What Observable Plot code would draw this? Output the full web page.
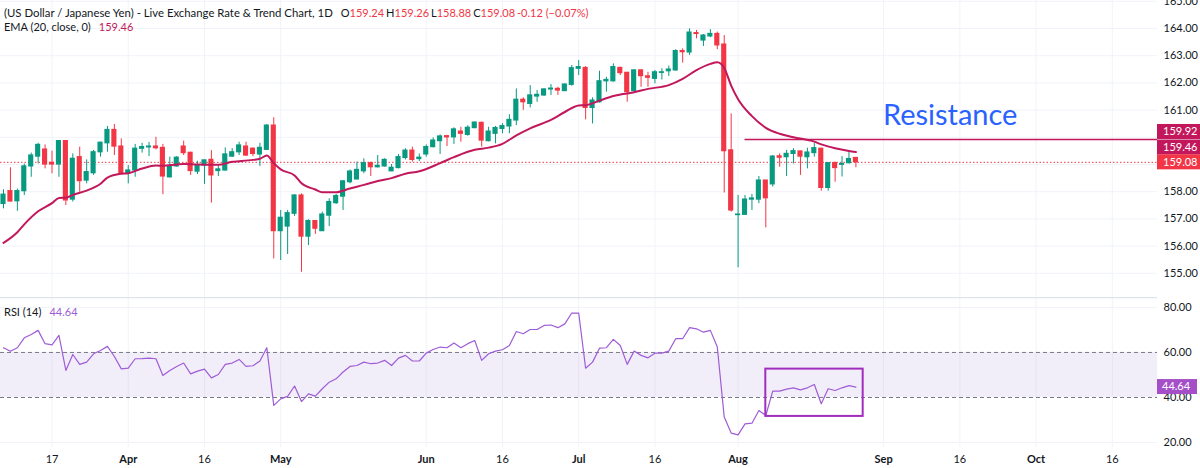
<!DOCTYPE html>
<html>
<head>
<meta charset="utf-8">
<script src="https://cdn.jsdelivr.net/npm/d3@7"></script>
<script src="https://cdn.jsdelivr.net/npm/@observablehq/plot@0.6"></script>
<style>
  html, body { margin: 0; padding: 0; background: #ffffff; }
  #chart { position: relative; width: 1200px; height: 468px; overflow: hidden; font-family: Lato, "Noto Sans", sans-serif; }
  #chart svg { display: block; }
  .legend { position: absolute; left: 4px; font-size: 11px; line-height: 14px; color: #131722; white-space: pre; }
  .title { font-size: 11.35px; }
  .red { color: #f23645; }
  .ema { color: #c2185b; }
  .rsiv { color: #9e5cd6; }
  .g0 { margin-left: 8px; }
  .g { margin-left: 2px; }
</style>
</head>
<body>
<div id="chart">
  <div id="price"></div>
  <div id="rsi"></div>
  <div class="legend" id="leg1" style="top:6px"></div>
  <div class="legend" id="leg2" style="top:20px"></div>
  <div class="legend" id="leg3" style="top:305px"></div>
</div>
<script>
// ---------------- data ----------------
const symbolTitle = "(US Dollar / Japanese Yen) - Live Exchange Rate & Trend Chart, 1D";
const changeText = "-0.12 (\u22120.07%)";
const emaTitle = "EMA (20, close, 0)";
const rsiTitle = "RSI (14)";

const open = [157.55,158.02,157.65,158.02,158.93,159.29,159.55,159.06,159.00,159.86,
157.71,159.27,158.41,158.68,159.45,159.78,160.27,159.66,158.66,158.78,
159.58,159.63,159.66,159.61,158.53,158.93,159.66,159.43,158.74,158.96,
159.17,158.76,158.78,159.29,159.45,159.66,159.58,159.37,159.54,160.43,
156.55,156.72,157.19,157.86,156.35,156.92,156.55,157.12,157.58,157.82,
158.35,158.45,158.75,159.05,158.90,158.93,158.75,158.87,159.24,159.51,
159.20,159.37,159.64,159.86,160.04,160.00,160.21,160.09,160.34,160.53,
159.86,160.13,160.31,160.40,160.62,161.38,161.23,161.50,161.54,161.76,
161.78,161.70,161.93,162.52,162.55,161.08,161.29,162.06,162.06,162.55,
162.37,161.70,162.46,162.24,162.15,162.37,162.43,162.46,163.17,163.12,
163.83,163.56,163.71,163.80,163.41,159.52,157.14,157.15,157.71,157.71,
158.41,158.27,159.30,159.27,159.39,159.48,159.27,159.42,159.58,158.14,
159.05,158.99,159.05,159.24];
const high = [158.07,158.88,158.10,159.02,159.42,159.78,159.72,159.49,159.88,159.86,
159.39,159.64,159.17,159.52,159.82,160.40,160.47,159.94,158.96,159.74,
159.78,159.81,160.00,159.74,159.27,159.29,159.86,159.45,159.12,159.17,
159.51,158.96,159.61,159.58,159.82,159.82,159.61,159.78,160.47,160.72,
157.31,157.31,157.89,157.92,156.97,156.94,157.25,157.74,157.90,158.41,
158.80,159.09,159.21,159.09,159.33,159.21,159.00,159.37,159.58,159.64,
159.39,159.72,159.98,160.09,160.07,160.35,160.37,160.43,160.56,160.56,
160.37,160.40,160.50,160.83,161.78,161.45,161.90,161.72,161.78,161.94,
161.84,161.96,162.64,162.82,162.60,161.45,162.43,162.21,162.70,162.58,
162.39,162.48,162.48,162.39,162.46,162.52,162.62,163.22,163.25,163.99,
163.93,163.78,163.96,163.87,163.74,160.86,157.86,157.86,157.90,158.56,
158.41,159.33,159.39,159.52,159.58,159.49,159.60,159.78,159.58,159.05,
159.09,159.29,159.45,159.26];
const low = [157.37,157.62,157.28,157.86,158.53,159.02,158.84,158.66,158.53,157.49,
157.62,157.98,158.29,158.60,159.27,159.45,159.33,158.66,158.29,158.53,
159.42,159.29,159.54,157.89,158.50,158.90,159.33,158.60,158.63,158.27,
157.58,158.56,158.76,159.27,159.33,159.29,159.29,158.93,159.52,155.53,
155.47,155.69,157.09,155.04,156.02,156.43,156.54,156.72,157.53,157.31,
158.29,158.44,158.66,158.56,158.87,158.90,158.74,158.84,159.17,159.09,
159.11,159.27,159.61,159.37,159.66,159.74,159.82,160.04,160.31,159.64,
159.83,159.76,160.13,160.13,160.43,160.99,161.08,161.29,161.50,161.54,
161.54,161.68,161.88,162.27,160.64,160.49,161.26,161.66,162.03,162.27,
161.29,161.66,161.84,161.84,161.97,162.11,162.24,162.43,162.73,163.01,
163.62,163.34,163.66,163.22,157.95,157.25,155.20,157.15,157.31,157.56,
156.67,158.17,158.90,158.56,159.02,158.60,158.84,159.27,158.02,158.02,
158.35,158.54,159.02,158.88];
const close = [157.89,157.64,158.02,158.93,159.33,159.72,159.00,159.00,159.86,157.68,
159.21,158.39,158.72,159.45,159.80,160.27,159.66,158.68,158.78,159.58,
159.64,159.66,159.60,158.56,158.93,159.25,159.42,158.76,158.96,159.15,
158.60,158.82,159.37,159.45,159.70,159.33,159.39,159.61,160.43,156.55,
157.04,157.21,157.86,156.35,156.92,156.64,157.16,157.62,157.84,158.38,
158.74,158.80,159.05,158.90,158.95,159.17,158.88,159.27,159.51,159.17,
159.25,159.64,159.88,160.03,160.00,160.29,160.13,160.35,160.54,159.88,
160.21,160.34,160.41,160.64,161.38,161.29,161.54,161.56,161.76,161.79,
161.72,161.94,162.54,162.58,161.08,161.35,162.06,162.11,162.58,162.36,
161.66,162.46,162.25,162.19,162.39,162.39,162.49,163.17,163.13,163.85,
163.80,163.74,163.80,163.38,159.49,157.31,157.16,157.71,157.75,158.41,
157.76,159.29,159.25,159.39,159.49,159.29,159.44,159.60,158.14,159.05,
158.87,159.02,159.20,159.08];

// EMA(20) at these bars
const emaBar = [0,2,3,5,7,8,9,10,12,14,15,17,18,20,22,23,25,26,28,31,33,34,36,37,38,39,40,42,43,45,46,48,50,52,54,56,58,60,63,65,68,70,72,74,76,79,81,83,84,86,88,91,93,96,98,100,102,103,104,105,106,108,110,112,114,117,118,120,122,123];
const emaValue = [156.12,156.51,156.80,157.28,157.58,157.77,157.78,157.88,158.04,158.29,158.52,158.66,158.68,158.85,158.96,158.95,159.00,159.02,159.00,158.99,159.10,159.12,159.17,159.21,159.33,159.05,158.82,158.60,158.31,158.08,157.98,157.98,158.12,158.25,158.39,158.50,158.66,158.75,159.05,159.27,159.54,159.62,159.76,160.07,160.33,160.64,160.93,161.17,161.18,161.35,161.52,161.66,161.78,161.92,162.15,162.47,162.70,162.76,162.55,161.90,161.40,160.78,160.35,160.13,160.00,159.84,159.74,159.60,159.50,159.46];

// RSI(14), one value per bar
const rsi = [62.1,60.5,62.1,66.5,68.0,69.8,63.9,63.4,67.6,52.0,
59.1,54.7,55.7,59.4,60.9,62.7,58.2,52.7,53.0,57.2,
57.3,57.5,57.2,49.8,52.0,53.8,55.3,50.5,51.7,52.6,
48.7,50.2,54.7,55.3,56.9,53.8,54.1,56.2,62.1,36.5,
39.4,40.5,45.1,38.2,41.6,40.6,43.9,46.8,48.3,51.3,
53.8,54.2,55.7,55.0,55.3,56.5,54.2,57.5,58.7,56.2,
56.2,59.7,61.3,62.4,62.1,64.2,62.1,63.9,65.3,56.5,
59.4,60.6,61.2,63.1,69.3,68.3,70.2,70.2,72.0,72.2,
71.0,72.7,77.5,77.5,53.0,55.7,61.9,62.1,65.8,63.1,
54.7,60.6,58.7,57.6,59.7,59.7,60.6,66.1,66.1,71.0,
70.5,69.0,69.8,62.4,31.3,24.2,23.4,28.3,28.6,34.2,
32.0,42.8,42.8,43.7,44.3,43.4,44.3,45.8,37.2,43.9,
43.1,44.3,45.3,44.64];

const axisTickBars = [7, 18, 29, 40, 61, 72, 83, 94, 106, 127, 138, 149, 160];
const axisTickLabels = ["17","Apr","16","May","Jun","16","Jul","16","Aug","Sep","16","Oct","16"];
const priceGrid = [155,156,157,158,159,160,161,162,163,164,165];
const priceTicks = [155,156,157,158,161,162,163,164,165];
const rsiTicks = [20,40,60,80];

const resistanceLevel = 159.92;
const resistanceStartBar = 107;
const resistanceLabel = "Resistance";
const resistanceLabelAt = {bar: 126.9, price: 160.80};
const rsiBox = {bar1: 110, bar2: 124.05, lo: 31.6, hi: 52.6};
const rsiBandLo = 40, rsiBandHi = 60;

// ---------------- styling ----------------
const UP = "#089981", DOWN = "#f23645", EMA_C = "#c2185b", RSI_C = "#9e5cd6";
const GRID = "#f0f3fa", TXT = "#131722";
const FONT = "Lato, 'Noto Sans', sans-serif";
const FS = "11px";

const N = close.length;
const bars = d3.range(N).map(i => ({i, o: open[i], h: high[i], l: low[i], c: close[i],
  col: close[i] >= open[i] ? UP : DOWN}));
const emaPts = emaBar.map((b, k) => ({b, v: emaValue[k]}));
const rsiPts = rsi.map((v, i) => ({i, v}));
const xDomain = [-0.433, 166.52];
const lastClose = close[N - 1];
const lastEma = emaValue[emaValue.length - 1];
const lastRsi = rsi[N - 1];
const fmt = d3.format(".2f");
const tickLabel = d => axisTickLabels[axisTickBars.indexOf(d)];
const monthBars = axisTickBars.filter((b, k) => isNaN(+axisTickLabels[k]));
const dayBars = axisTickBars.filter((b, k) => !isNaN(+axisTickLabels[k]));

// ---------------- price pane ----------------
const price = Plot.plot({
  width: 1200, height: 297,
  marginLeft: 0, marginRight: 43, marginTop: 0, marginBottom: 0,
  x: {domain: xDomain, axis: null},
  y: {domain: [154.11, 165.03], axis: null},
  color: {type: "identity"},
  style: {fontFamily: FONT, fontSize: FS, color: TXT, background: "#ffffff"},
  marks: [
    Plot.gridX(axisTickBars, {stroke: GRID, strokeOpacity: 1}),
    Plot.gridY(priceGrid, {stroke: GRID, strokeOpacity: 1}),
    Plot.axisY(priceTicks, {anchor: "right", tickSize: 0, tickPadding: 6, tickFormat: fmt, label: null, fill: TXT}),
    Plot.ruleY([lastClose], {stroke: DOWN, strokeDasharray: "1.5,2", strokeWidth: 1}),
    Plot.ruleX(bars, {x: "i", y1: "l", y2: "h", stroke: "col", strokeWidth: 1}),
    Plot.rect(bars, {x1: d => d.i - 0.37, x2: d => d.i + 0.37, y1: "o", y2: "c", fill: "col", insetTop: -0.6, insetBottom: -0.6}),
    Plot.line(emaPts, {x: "b", y: "v", stroke: EMA_C, strokeWidth: 2, curve: "monotone-x"}),
    Plot.ruleY([resistanceLevel], {x1: resistanceStartBar, x2: xDomain[1], stroke: EMA_C, strokeWidth: 1.5}),
    Plot.text([resistanceLabel], {x: resistanceLabelAt.bar, y: resistanceLabelAt.price, text: d => d,
      textAnchor: "start", fill: "#2962ff", fontSize: 29, fontFamily: FONT})
  ]
});
document.getElementById("price").appendChild(price);

// value tags on the price scale
{
  const ys = price.scale("y");
  const tags = [
    {v: resistanceLevel, color: EMA_C, shift: -7.5},
    {v: lastEma, color: EMA_C, shift: -4.5},
    {v: lastClose, color: DOWN, shift: 0}
  ];
  const g = d3.select(price).append("g").attr("text-anchor", "start");
  for (const t of tags) {
    const yc = ys.apply(t.v) + t.shift;
    g.append("rect").attr("x", 1157).attr("y", yc - 7.5).attr("width", 43).attr("height", 15).attr("fill", t.color);
    g.append("text").attr("x", 1163).attr("y", yc).attr("dy", "0.35em").attr("fill", "#ffffff")
      .attr("text-anchor", "start").attr("font-family", FONT).attr("font-size", FS).text(fmt(t.v));
  }
}

// ---------------- RSI pane ----------------
const rsiPlot = Plot.plot({
  width: 1200, height: 171,
  marginLeft: 0, marginRight: 43, marginTop: 0, marginBottom: 21,
  x: {domain: xDomain},
  y: {domain: [17.8, 84.4], axis: null},
  style: {fontFamily: FONT, fontSize: FS, color: TXT, background: "#ffffff"},
  marks: [
    Plot.gridX(axisTickBars, {stroke: GRID, strokeOpacity: 1}),
    Plot.gridY([20, 80], {stroke: GRID, strokeOpacity: 1}),
    Plot.rect([0], {y1: rsiBandLo, y2: rsiBandHi, fill: "#7e57c2", fillOpacity: 0.1}),
    Plot.ruleY([rsiBandLo, rsiBandHi], {stroke: "#787b86", strokeDasharray: "4,3", strokeWidth: 1}),
    Plot.line(rsiPts, {x: "i", y: "v", stroke: RSI_C, strokeWidth: 1.2}),
    Plot.rect([rsiBox], {x1: "bar1", x2: "bar2", y1: "lo", y2: "hi", fill: "none", stroke: "#a12dbd", strokeWidth: 2}),
    Plot.ruleY([84.4], {stroke: "#e0e3eb", strokeWidth: 1.5}),
    Plot.axisY(rsiTicks, {anchor: "right", tickSize: 0, tickPadding: 6, tickFormat: fmt, label: null, fill: TXT}),
    Plot.axisX(dayBars, {anchor: "bottom", tickSize: 0, tickPadding: 8, tickFormat: tickLabel, label: null, fill: TXT}),
    Plot.axisX(monthBars, {anchor: "bottom", tickSize: 0, tickPadding: 8, tickFormat: tickLabel, label: null, fill: TXT, fontWeight: "bold"})
  ]
});
document.getElementById("rsi").appendChild(rsiPlot);
{
  const ys = rsiPlot.scale("y");
  const yc = ys.apply(lastRsi);
  const g = d3.select(rsiPlot).append("g").attr("text-anchor", "start");
  g.append("rect").attr("x", 1157).attr("y", yc - 7.5).attr("width", 40).attr("height", 15).attr("fill", "#a44fc8");
  g.append("text").attr("x", 1162).attr("y", yc).attr("dy", "0.35em").attr("fill", "#ffffff")
    .attr("text-anchor", "start").attr("font-family", FONT).attr("font-size", FS).text(fmt(lastRsi));
}

// ---------------- legends ----------------
const o = open[N - 1], h = high[N - 1], l = low[N - 1], c = close[N - 1];
document.getElementById("leg1").innerHTML =
  `<span class="title">${symbolTitle}</span>` +
  `<span class="g0">O<span class="red">${fmt(o)}</span></span>` +
  `<span class="g">H<span class="red">${fmt(h)}</span></span>` +
  `<span class="g">L<span class="red">${fmt(l)}</span></span>` +
  `<span class="g">C<span class="red">${fmt(c)}</span></span>` +
  `<span class="g red">${changeText}</span>`;
document.getElementById("leg2").innerHTML = `${emaTitle}<span class="g0 ema">${fmt(lastEma)}</span>`;
document.getElementById("leg3").innerHTML = `${rsiTitle}<span class="g0 rsiv">${fmt(lastRsi)}</span>`;
</script>
</body>
</html>
